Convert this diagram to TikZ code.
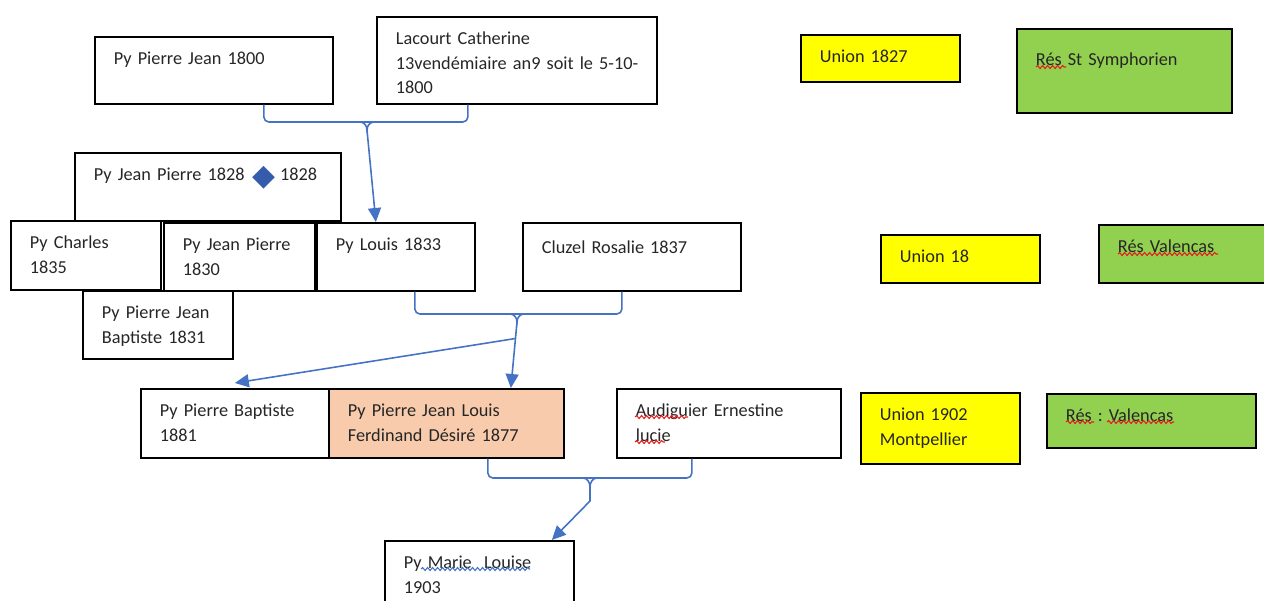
\documentclass[tikz,border=0pt]{standalone}
\usepackage{fontspec}
\setmainfont{Carlito}
\newfontfamily\symfont{DejaVu Sans}
\usetikzlibrary{arrows.meta,positioning,calc,decorations.pathmorphing}
\definecolor{unionyellow}{RGB}{255,255,0}
\definecolor{resgreen}{RGB}{146,208,80}
\definecolor{heirpeach}{RGB}{248,203,173}
\definecolor{linkblue}{RGB}{68,114,196}
\definecolor{markblue}{RGB}{52,92,170}
\definecolor{inkgray}{RGB}{38,38,38}
\definecolor{spellred}{RGB}{230,30,30}

\begin{document}
\begin{tikzpicture}[x=0.02cm, y=-0.02cm,
    every node/.style={font=\fontsize{10.4}{13.9}\selectfont\frenchspacing, text=inkgray},
    pbox/.style={draw=black, line width=1pt, anchor=north west, inner xsep=0.38cm,
      inner ysep=0pt, text height=0.56cm, align=left},
    unionbox/.style={pbox, fill=unionyellow},
    resbox/.style={pbox, fill=resgreen},
    famline/.style={draw=linkblue, line width=0.9pt},
    famarrow/.style={famline, -{Triangle[length=0.28cm, width=0.26cm]}},
    squiggle/.style={draw=spellred, line width=0.6pt, decorate,
      decoration={snake, amplitude=0.03cm, segment length=0.1cm}}]
  \useasboundingbox (0,0) rectangle (1264,601);
  \begin{scope}
  \clip (0,0) rectangle (1264,601);

  % generation 1800
  \node[pbox, text width=4.00cm, text depth=0.78cm] (pj1800) at (94,36) {Py Pierre Jean 1800};
  \node[pbox, text width=4.84cm, text depth=1.18cm] (lacourt) at (376,16)
    {Lacourt Catherine\\\mbox{13vendémiaire an9 soit le 5-10-}\\1800};
  \node[unionbox, text width=2.42cm, text depth=0.38cm] (u1827) at (800,34) {Union 1827};
  \node[resbox, text width=3.54cm, text height=0.74cm, text depth=0.94cm] (res1827) at (1016,28) {Rés St Symphorien};

  % generation 1830
  \node[pbox, text width=4.56cm, text depth=0.80cm] (jp1828) at (74,152)
    {Py Jean Pierre 1828 \hspace{0.1em}{\symfont\fontsize{17}{13}\selectfont\color{markblue}\raisebox{-0.3ex}{◆}}\hspace{0.25em}1828};
  \node[pbox, text width=2.24cm, text depth=0.82cm] (charles) at (10,220) {Py Charles\\1835};
  \node[pbox, text width=2.26cm, text depth=0.80cm] (jp1830) at (163,222) {Py Jean Pierre\\1830};
  \node[pbox, text width=2.40cm, text depth=0.80cm] (louis) at (316,222) {Py Louis 1833};
  \node[pbox, text width=3.60cm, text height=0.62cm, text depth=0.74cm] (cluzel) at (522,222) {Cluzel Rosalie 1837};
  \node[unionbox, text width=2.42cm, text depth=0.40cm] (u18) at (880,234) {Union 18};
  \node[resbox, text width=2.64cm, text depth=0.60cm] (res18) at (1098,224) {Rés Valencas};
  \node[pbox, text width=2.24cm, text depth=0.80cm] (pjb1831) at (82,290) {Py Pierre Jean\\Baptiste 1831};

  % generation 1880
  \node[pbox, text width=3.00cm, text depth=0.82cm] (pb1881) at (140,388) {Py Pierre Baptiste\\1881};
  \node[pbox, fill=heirpeach, text width=3.94cm, text depth=0.82cm] (pjl1877) at (328,388)
    {Py Pierre Jean Louis\\Ferdinand Désiré 1877};
  \node[pbox, text width=3.72cm, text depth=0.82cm] (audig) at (616,388) {Audiguier Ernestine\\lucie};
  \node[unionbox, text width=2.42cm, text depth=0.86cm] (u1902) at (860,392) {Union 1902\\Montpellier};
  \node[resbox, text width=3.42cm, text depth=0.52cm] (res1902) at (1046,393) {Rés : Valencas};

  % generation 1900
  \node[pbox, text width=3.02cm, text depth=0.84cm] (marie) at (384,540) {Py Marie~ Louise\\1903};

  % spelling marks
  \draw[squiggle] (1036,67) -- (1066,67);
  \draw[squiggle] (1118,254) -- (1218,254);
  \draw[squiggle] (1066,422) -- (1094,422);
  \draw[squiggle] (1107,422) -- (1174,422);
  \draw[squiggle] (635,417) -- (688,417);
  \draw[squiggle] (635,442) -- (665,442);
  \draw[squiggle, draw=linkblue] (421,569) -- (530,569);

  % unions
  \coordinate (c1) at (367,122);
  \coordinate (m1) at (367,130);
  \draw[famline, rounded corners=0.1cm] ([xshift=1cm]pj1800.south) |- (c1) -| ([xshift=-0.98cm]lacourt.south);
  \draw[famline] ($(c1)+(-7,0)$) to[out=0, in=90] (m1) to[out=90, in=180] ($(c1)+(7,0)$);
  \draw[famarrow] (m1) -- ([xshift=-0.4cm]louis.north);

  \coordinate (c2) at (517,314);
  \coordinate (m2) at (517,322);
  \draw[famline, rounded corners=0.1cm] ([xshift=0.38cm]louis.south) |- (c2) -| ([xshift=-0.2cm]cluzel.south);
  \draw[famline] ($(c2)+(-7,0)$) to[out=0, in=90] (m2) to[out=90, in=180] ($(c2)+(7,0)$);
  \coordinate (t2) at ([xshift=1.29cm]pjl1877.north);
  \draw[famarrow] (m2) -- (t2);
  \draw[famarrow] ($(m2)!0.25!(t2)$) -- ([yshift=0.1cm]pb1881.north);

  \coordinate (c3) at (590,478);
  \coordinate (m3) at (590,487);
  \draw[famline, rounded corners=0.1cm] ([xshift=0.83cm]pjl1877.south) |- (c3) -| ([xshift=-0.74cm]audig.south);
  \draw[famline] ($(c3)+(-7,0)$) to[out=0, in=90] (m3) to[out=90, in=180] ($(c3)+(7,0)$);
  \draw[famarrow] (m3) -- ++(0,14) -- ([xshift=1.45cm]marie.north);
  \end{scope}
\end{tikzpicture}
\end{document}
